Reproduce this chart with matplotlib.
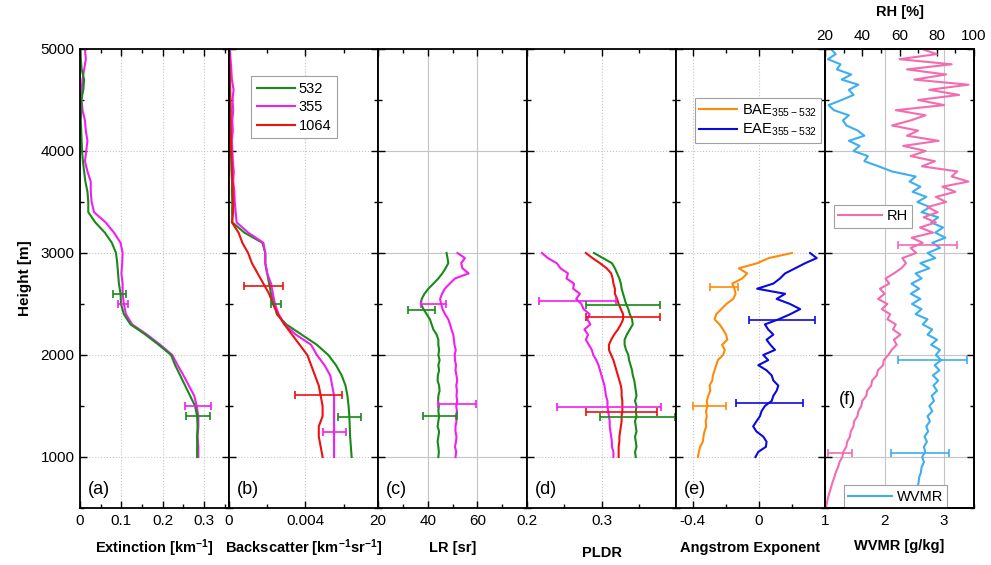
import numpy as np
import matplotlib
matplotlib.use("Agg")
import matplotlib.pyplot as plt
from matplotlib.ticker import FixedLocator, MultipleLocator

plt.rcParams['font.family'] = ['Liberation Sans', 'DejaVu Sans']
plt.rcParams['mathtext.fontset'] = 'custom'
plt.rcParams['mathtext.rm'] = 'Liberation Sans'
plt.rcParams['mathtext.bf'] = 'Liberation Sans:bold'
plt.rcParams['mathtext.default'] = 'regular'
plt.rcParams['axes.unicode_minus'] = False

# ---------------- height grids (m) ----------------
height_ab = np.arange(1000, 5001, 100)
height_cde = np.arange(1000, 3001, 50)
height_f = np.arange(500, 5001, 50)

# ---------------- (a) extinction [km-1] ----------------
ext_532 = [0.283, 0.283, 0.283, 0.284, 0.283, 0.278, 0.266, 0.254, 0.242, 0.230,
           0.220, 0.190, 0.158, 0.122, 0.106, 0.099, 0.098, 0.094, 0.092, 0.090,
           0.087, 0.077, 0.060, 0.037, 0.020, 0.020, 0.018, 0.013, 0.010, 0.007,
           0.005, 0.004, 0.003, 0.002, 0.003, 0.003, 0.008, 0.010, 0.004, 0.002,
           0.001]
ext_355 = [0.286, 0.286, 0.284, 0.286, 0.286, 0.282, 0.276, 0.263, 0.250, 0.236,
           0.223, 0.194, 0.162, 0.126, 0.111, 0.106, 0.103, 0.103, 0.100, 0.102,
           0.103, 0.098, 0.082, 0.062, 0.034, 0.028, 0.026, 0.026, 0.018, 0.012,
           0.015, 0.018, 0.014, 0.012, 0.006, 0.004, 0.004, 0.006, 0.010, 0.014,
           0.012]
ext_err_532_h, ext_err_532_x, ext_err_532_dx = [2600, 1400], [0.096, 0.285], [0.016, 0.030]
ext_err_355_h, ext_err_355_x, ext_err_355_dx = [2500, 1500], [0.104, 0.285], [0.013, 0.032]

# ---------------- (b) backscatter [km-1 sr-1] ----------------
bsc_532 = [0.00642, 0.00638, 0.00634, 0.00632, 0.0063, 0.00626, 0.0062, 0.0061, 0.0059, 0.0056,
           0.0052, 0.0046, 0.0038, 0.0030, 0.0025, 0.0024, 0.0022, 0.0021, 0.0020, 0.0019,
           0.0019, 0.00175, 0.0008, 0.00018, 0.00016, 0.00017, 0.00015, 0.00016, 0.00013, 0.00012,
           0.0001, 0.00011, 0.00009, 0.00008, 0.00009, 0.00007, 0.00006, 0.00005, 0.00004, 0.00003,
           0.00002]
bsc_355 = [0.0055, 0.0055, 0.0055, 0.0055, 0.0055, 0.0055, 0.0055, 0.0054, 0.0053, 0.0050,
           0.0046, 0.0043, 0.0035, 0.0029, 0.0026, 0.0024, 0.0023, 0.0022, 0.0020, 0.0019,
           0.0019, 0.0018, 0.0010, 0.0004, 0.00035, 0.0003, 0.00028, 0.00022, 0.00025, 0.0002,
           0.00018, 0.00015, 0.0002, 0.00017, 0.00022, 0.00018, 0.00024, 0.00015, 0.00012, 0.00008,
           0.00005]
bsc_1064 = [0.0049, 0.0048, 0.0047, 0.0047, 0.0049, 0.0049, 0.0048, 0.0047, 0.0045, 0.0043,
            0.0041, 0.0037, 0.0033, 0.0029, 0.00255, 0.0023, 0.0021, 0.0018, 0.0015, 0.0012,
            0.0010, 0.0007, 0.0005, 0.00015, 0.00022, 0.00022, 0.0002, 0.00018, 0.00016, 0.00014,
            0.00012, 0.0001, 0.00009, 0.00008, 0.00007, 0.00006, 0.00005, 0.00004, 0.00003, 0.00002,
            0.00001]
bsc_err_532_h, bsc_err_532_x, bsc_err_532_dx = [2500, 1390], [0.00245, 0.0063], [0.00027, 0.0006]
bsc_err_355_h, bsc_err_355_x, bsc_err_355_dx = [1250], [0.0055], [0.0006]
bsc_err_1064_h, bsc_err_1064_x, bsc_err_1064_dx = [2680, 1610], [0.0018, 0.0047], [0.00103, 0.00124]

# ---------------- (c) lidar ratio [sr] ----------------
lr_532 = [44.3, 44.5, 44.3, 44.0, 44.3, 44.6, 44.0, 44.3, 44.6, 44.3,
          44.5, 44.2, 44.3, 44.8, 44.6, 44.0, 44.1, 44.6, 44.3, 44.8,
          44.3, 44.6, 44.3, 44.3, 43.6, 42.3, 41.6, 40.9, 39.6, 38.3,
          37.3, 37.6, 38.7, 40.3, 42.3, 44.3, 45.9, 47.2, 48.3, 48.0, 47.6]
lr_355 = [51.2, 51.5, 51.0, 51.4, 51.6, 51.2, 51.2, 51.6, 51.3, 51.8,
          51.5, 51.9, 51.6, 51.8, 51.5, 51.9, 51.6, 51.2, 51.4, 51.0,
          50.9, 51.3, 50.8, 50.6, 50.3, 49.6, 49.0, 48.3, 47.0, 46.0,
          45.4, 45.0, 45.8, 46.9, 48.9, 51.0, 56.5, 54.0, 53.5, 55.0, 52.0]
lr_err_532_h, lr_err_532_x, lr_err_532_dx = [2440, 1400], [37.5, 45.0], [5.5, 6.7]
lr_err_355_h, lr_err_355_x, lr_err_355_dx = [2500, 1515], [42.5, 51.8], [5.0, 7.8]

# ---------------- (d) particle linear depolarization ratio ----------------
pldr_355 = [0.316, 0.316, 0.314, 0.314, 0.313, 0.312, 0.311, 0.311, 0.310, 0.309,
            0.308, 0.308, 0.306, 0.305, 0.304, 0.302, 0.300, 0.298, 0.296, 0.293,
            0.289, 0.287, 0.283, 0.279, 0.282, 0.277, 0.285, 0.281, 0.284, 0.276,
            0.273, 0.266, 0.271, 0.262, 0.263, 0.253, 0.255, 0.245, 0.240, 0.228, 0.220]
pldr_1064 = [0.323, 0.323, 0.323, 0.324, 0.324, 0.325, 0.326, 0.327, 0.327, 0.328,
             0.328, 0.328, 0.327, 0.327, 0.326, 0.324, 0.322, 0.320, 0.318, 0.316,
             0.313, 0.310, 0.310, 0.313, 0.317, 0.322, 0.326, 0.329, 0.329, 0.326,
             0.323, 0.321, 0.318, 0.318, 0.316, 0.315, 0.313, 0.307, 0.298, 0.288, 0.279]
pldr_532 = [0.346, 0.345, 0.347, 0.346, 0.345, 0.347, 0.346, 0.345, 0.347, 0.346,
            0.347, 0.345, 0.347, 0.346, 0.345, 0.344, 0.342, 0.341, 0.339, 0.337,
            0.336, 0.333, 0.331, 0.331, 0.334, 0.338, 0.342, 0.341, 0.338, 0.336,
            0.333, 0.331, 0.329, 0.327, 0.326, 0.324, 0.321, 0.318, 0.314, 0.302, 0.290]
pldr_err_355_h, pldr_err_355_x, pldr_err_355_dx = [2530, 1490], [0.268, 0.310], [0.052, 0.070]
pldr_err_532_h, pldr_err_532_x, pldr_err_532_dx = [2490, 1395], [0.329, 0.348], [0.050, 0.050]
pldr_err_1064_h, pldr_err_1064_x, pldr_err_1064_dx = [2370, 1440], [0.329, 0.327], [0.050, 0.048]

# ---------------- (e) Angstrom exponents ----------------
bae = [-0.368, -0.362, -0.354, -0.338, -0.334, -0.328, -0.317, -0.321, -0.314, -0.319,
       -0.310, -0.314, -0.305, -0.293, -0.297, -0.281, -0.277, -0.267, -0.257, -0.247,
       -0.216, -0.205, -0.222, -0.190, -0.198, -0.216, -0.237, -0.267, -0.257, -0.226,
       -0.196, -0.155, -0.140, -0.147, -0.160, -0.100, -0.070, -0.120, -0.010, 0.060, 0.200]
eae = [-0.020, -0.003, 0.043, 0.047, 0.027, -0.014, -0.034, -0.014, 0.007, 0.017,
       0.037, 0.078, 0.088, 0.108, 0.118, 0.088, 0.078, 0.047, -0.003, 0.057,
       0.027, 0.098, 0.070, 0.047, 0.088, 0.057, 0.037, 0.120, 0.190, 0.250,
       0.189, 0.108, 0.159, -0.010, 0.088, 0.128, 0.159, 0.220, 0.280, 0.350, 0.310]
bae_err_h, bae_err_x, bae_err_dx = [2670, 1500], [-0.21, -0.30], [0.085, 0.10]
eae_err_h, eae_err_x, eae_err_dx = [2345, 1530], [0.139, 0.065], [0.20, 0.205]

# ---------------- (f) water vapour ----------------
wvmr = [2.48, 2.50, 2.52, 2.53, 2.55, 2.57, 2.58, 2.61, 2.62, 2.66,
        2.63, 2.68, 2.66, 2.71, 2.67, 2.73, 2.70, 2.76, 2.72, 2.80,
        2.75, 2.83, 2.79, 2.88, 2.82, 2.90, 2.81, 2.92, 2.84, 2.95,
        2.86, 2.93, 2.78, 2.88, 2.72, 2.80, 2.64, 2.72, 2.52, 2.62,
        2.46, 2.60, 2.44, 2.58, 2.45, 2.62, 2.52, 2.75, 2.60, 2.85,
        2.72, 2.93, 2.80, 3.02, 2.85, 2.98, 2.78, 2.90, 2.62, 2.76,
        2.55, 2.70, 2.47, 2.60, 2.42, 2.52, 2.12, 1.90, 1.66, 1.72,
        1.48, 1.58, 1.40, 1.66, 1.55, 1.36, 1.30, 1.40, 1.15, 1.06,
        1.28, 1.48, 1.40, 1.56, 1.28, 1.44, 1.20, 1.26, 1.05, 1.18,
        1.10]
rh = [20.5, 21.0, 21.6, 22.4, 23.2, 24.0, 25.0, 25.8, 27.0, 27.8,
      29.3, 29.8, 31.4, 31.9, 33.4, 33.8, 35.3, 35.6, 37.4, 37.9,
      39.5, 40.0, 42.2, 42.6, 44.8, 45.3, 47.8, 48.4, 51.2, 51.5,
      54.0, 55.8, 58.5, 57.0, 60.5, 56.5, 58.0, 53.5, 55.0, 50.5,
      53.5, 48.5, 52.0, 49.5, 54.5, 52.5, 57.0, 61.0, 63.5, 61.5,
      69.0, 66.0, 72.5, 66.5, 78.0, 71.0, 79.5, 73.0, 80.5, 75.0,
      85.0, 79.5, 90.0, 83.0, 97.0, 88.0, 91.0, 72.0, 79.0, 66.0,
      74.0, 62.0, 81.0, 64.0, 70.0, 56.0, 66.0, 74.0, 58.0, 84.0,
      70.0, 92.0, 76.0, 97.0, 68.0, 85.0, 64.0, 88.0, 60.0, 80.0,
      72.0]
wvmr_err_h, wvmr_err_x, wvmr_err_dx = [1950, 1040], [2.81, 2.59], [0.58, 0.49]
rh_err_h, rh_err_x, rh_err_dx = [3080, 1040], [75.0, 28.0], [16.0, 6.3]

# ---------------- colours ----------------
C532 = '#178a17'
C355 = '#f01ef0'
C1064 = '#ee1111'
CBAE = '#ff8a0a'
CEAE = '#0a0ae0'
CRH = '#f36cb0'
CWV = '#3daef0'

W, H = 991, 565
x0, pw = 80, 149
ybot, ytop = 508, 49

fig = plt.figure(figsize=(W / 100, H / 100), dpi=100)
axes = [fig.add_axes([(x0 + i * pw) / W, (H - ybot) / H, pw / W, (ybot - ytop) / H])
        for i in range(6)]

LW = 1.5


def style(ax, xlim, major, labels, minor, grid_ls=':', top=True):
    ax.set_ylim(500, 5000)
    ax.set_xlim(*xlim)
    ax.xaxis.set_major_locator(FixedLocator(major))
    ax.set_xticklabels(labels)
    ax.xaxis.set_minor_locator(FixedLocator(minor))
    ax.yaxis.set_major_locator(MultipleLocator(1000))
    ax.yaxis.set_minor_locator(MultipleLocator(500))
    ax.tick_params(which='both', direction='in', top=top, right=True, left=True,
                   labelsize=11, pad=4)
    ax.tick_params(which='major', length=5, width=1)
    ax.tick_params(which='minor', length=3, width=1)
    ax.grid(True, which='major', ls=grid_ls, color='#c4c4c4', lw=0.8)
    ax.set_axisbelow(True)
    for s in ax.spines.values():
        s.set_linewidth(1.3)


def xlabel(ax, text, y=-0.087):
    ax.set_xlabel(text, fontsize=10.5, fontweight='bold')
    ax.xaxis.set_label_coords(0.5, y)
    ax.xaxis.label.set_va('center')


def errbars(ax, x, h, dx, color):
    ax.errorbar(x, h, xerr=dx, fmt='none', ecolor=color, elinewidth=1.2,
                capsize=3, capthick=1.2, zorder=5)


def letter(ax, s, x=0.05, y=0.041):
    ax.text(x, y, s, transform=ax.transAxes, fontsize=13, va='center', ha='left')


def boxed_legend(ax, handles, **kw):
    leg = ax.legend(handles=handles, fontsize=10.5, handletextpad=0.3, fancybox=False,
                    framealpha=1, edgecolor='#a0a0a0', borderaxespad=0, **kw)
    leg.get_frame().set_linewidth(0.8)
    return leg


# (a)
ax = axes[0]
ax.plot(ext_355, height_ab, color=C355, lw=LW)
ax.plot(ext_532, height_ab, color=C532, lw=LW)
errbars(ax, ext_err_355_x, ext_err_355_h, ext_err_355_dx, C355)
errbars(ax, ext_err_532_x, ext_err_532_h, ext_err_532_dx, C532)
style(ax, (0, 0.36), [0, 0.1, 0.2, 0.3], ['0', '0.1', '0.2', '0.3'],
      [0.05, 0.15, 0.25, 0.35])
ax.set_ylabel('Height [m]', fontsize=11, fontweight='bold', labelpad=6)
xlabel(ax, r'Extinction [km$^{\mathbf{-1}}$]')
letter(ax, '(a)')

# (b)
ax = axes[1]
l1, = ax.plot(bsc_532, height_ab, color=C532, lw=LW, label='532')
l2, = ax.plot(bsc_355, height_ab, color=C355, lw=LW, label='355')
l3, = ax.plot(bsc_1064, height_ab, color=C1064, lw=LW, label='1064')
errbars(ax, bsc_err_1064_x, bsc_err_1064_h, bsc_err_1064_dx, C1064)
errbars(ax, bsc_err_532_x, bsc_err_532_h, bsc_err_532_dx, C532)
errbars(ax, bsc_err_355_x, bsc_err_355_h, bsc_err_355_dx, C355)
style(ax, (0, 0.0078), [0, 0.004], ['0', '0.004'], [0.002, 0.006])
ax.tick_params(labelleft=False)
xlabel(ax, r'Backscatter [km$^{\mathbf{-1}}$sr$^{\mathbf{-1}}$]')
letter(ax, '(b)')
boxed_legend(ax, [l1, l2, l3], loc='upper left', bbox_to_anchor=(0.146, 0.941),
             handlelength=2.6, labelspacing=0.3, borderpad=0.4)

# (c)
ax = axes[2]
ax.plot(lr_355, height_cde, color=C355, lw=LW)
ax.plot(lr_532, height_cde, color=C532, lw=LW)
errbars(ax, lr_err_355_x, lr_err_355_h, lr_err_355_dx, C355)
errbars(ax, lr_err_532_x, lr_err_532_h, lr_err_532_dx, C532)
style(ax, (20, 80), [20, 40, 60], ['20', '40', '60'], [30, 50, 70], grid_ls='-')
ax.tick_params(labelleft=False)
xlabel(ax, 'LR [sr]')
letter(ax, '(c)')

# (d)
ax = axes[3]
ax.plot(pldr_355, height_cde, color=C355, lw=LW)
ax.plot(pldr_532, height_cde, color=C532, lw=LW)
ax.plot(pldr_1064, height_cde, color=C1064, lw=LW)
errbars(ax, pldr_err_355_x, pldr_err_355_h, pldr_err_355_dx, C355)
errbars(ax, pldr_err_532_x, pldr_err_532_h, pldr_err_532_dx, C532)
errbars(ax, pldr_err_1064_x, pldr_err_1064_h, pldr_err_1064_dx, C1064)
style(ax, (0.2, 0.4), [0.2, 0.3], ['0.2', '0.3'], [0.25, 0.35])
ax.tick_params(labelleft=False)
xlabel(ax, 'PLDR', y=-0.098)
letter(ax, '(d)')

# (e)
ax = axes[4]
lb, = ax.plot(bae, height_cde, color=CBAE, lw=LW, label=r'BAE$_{\mathregular{355-532}}$')
le, = ax.plot(eae, height_cde, color=CEAE, lw=LW, label=r'EAE$_{\mathregular{355-532}}$')
errbars(ax, bae_err_x, bae_err_h, bae_err_dx, CBAE)
errbars(ax, eae_err_x, eae_err_h, eae_err_dx, CEAE)
style(ax, (-0.5, 0.4), [-0.4, 0.0], ['-0.4', '0'], [-0.2, 0.2])
ax.tick_params(labelleft=False)
xlabel(ax, 'Angstrom Exponent')
letter(ax, '(e)')
boxed_legend(ax, [lb, le], loc='upper left', bbox_to_anchor=(0.128, 0.893),
             handlelength=2.6, labelspacing=0.2, borderpad=0.3)

# (f) water vapour mixing ratio (bottom axis) and relative humidity (top axis)
ax = axes[5]
lw_, = ax.plot(wvmr, height_f, color=CWV, lw=LW, label='WVMR')
errbars(ax, wvmr_err_x, wvmr_err_h, wvmr_err_dx, CWV)
style(ax, (1, 3.5), [1, 2, 3], ['1', '2', '3'], [1.5, 2.5, 3.5], grid_ls='-', top=False)
ax.tick_params(labelleft=False)
xlabel(ax, 'WVMR [g/kg]', y=-0.082)
letter(ax, '(f)', x=0.09, y=0.237)
boxed_legend(ax, [lw_], loc='lower left', bbox_to_anchor=(0.128, 0.0),
             handlelength=3.0, borderpad=0.3)

tw = ax.twiny()
lr_, = tw.plot(rh, height_f, color=CRH, lw=LW, label='RH')
errbars(tw, rh_err_x, rh_err_h, rh_err_dx, CRH)
tw.set_xlim(20, 100)
tw.set_ylim(500, 5000)
tw.xaxis.set_major_locator(FixedLocator([20, 40, 60, 80, 100]))
tw.xaxis.set_minor_locator(FixedLocator([30, 50, 70, 90]))
tw.tick_params(which='both', direction='in', labelsize=11, pad=4)
tw.tick_params(which='major', length=5, width=1)
tw.tick_params(which='minor', length=3, width=1)
tw.set_xlabel('RH [%]', fontsize=10.5, fontweight='bold')
tw.xaxis.set_label_coords(0.5, 1.081)
tw.xaxis.label.set_va('center')
boxed_legend(tw, [lr_], loc='upper left', bbox_to_anchor=(0.06, 0.66),
             handlelength=3.0, borderpad=0.3)
for s in tw.spines.values():
    s.set_linewidth(1.3)

fig.savefig('out.png', dpi=100)
